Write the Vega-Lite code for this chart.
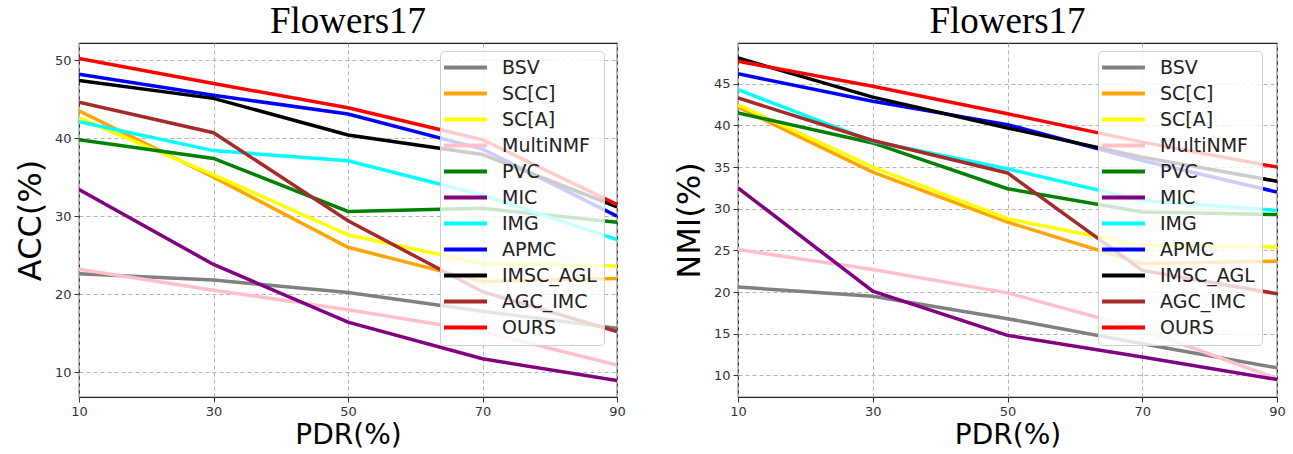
{
  "$schema": "https://vega.github.io/schema/vega-lite/v6.json",
  "padding": {"left": 13, "top": 2, "right": 5, "bottom": 0},
  "background": "white",
  "datasets": {
    "acc": [
      {"method": "BSV", "pdr": 10, "value": 22.6}, {"method": "BSV", "pdr": 30, "value": 21.8}, {"method": "BSV", "pdr": 50, "value": 20.2}, {"method": "BSV", "pdr": 70, "value": 17.8}, {"method": "BSV", "pdr": 90, "value": 15.6},
      {"method": "SC[C]", "pdr": 10, "value": 43.5}, {"method": "SC[C]", "pdr": 30, "value": 35.0}, {"method": "SC[C]", "pdr": 50, "value": 26.0}, {"method": "SC[C]", "pdr": 70, "value": 21.6}, {"method": "SC[C]", "pdr": 90, "value": 22.0},
      {"method": "SC[A]", "pdr": 10, "value": 42.6}, {"method": "SC[A]", "pdr": 30, "value": 35.3}, {"method": "SC[A]", "pdr": 50, "value": 27.6}, {"method": "SC[A]", "pdr": 70, "value": 23.9}, {"method": "SC[A]", "pdr": 90, "value": 23.6},
      {"method": "MultiNMF", "pdr": 10, "value": 23.2}, {"method": "MultiNMF", "pdr": 30, "value": 20.5}, {"method": "MultiNMF", "pdr": 50, "value": 18.0}, {"method": "MultiNMF", "pdr": 70, "value": 15.2}, {"method": "MultiNMF", "pdr": 90, "value": 10.9},
      {"method": "PVC", "pdr": 10, "value": 39.8}, {"method": "PVC", "pdr": 30, "value": 37.4}, {"method": "PVC", "pdr": 50, "value": 30.6}, {"method": "PVC", "pdr": 70, "value": 31.0}, {"method": "PVC", "pdr": 90, "value": 29.2},
      {"method": "MIC", "pdr": 10, "value": 33.4}, {"method": "MIC", "pdr": 30, "value": 23.8}, {"method": "MIC", "pdr": 50, "value": 16.4}, {"method": "MIC", "pdr": 70, "value": 11.7}, {"method": "MIC", "pdr": 90, "value": 8.9},
      {"method": "IMG", "pdr": 10, "value": 42.1}, {"method": "IMG", "pdr": 30, "value": 38.4}, {"method": "IMG", "pdr": 50, "value": 37.1}, {"method": "IMG", "pdr": 70, "value": 32.7}, {"method": "IMG", "pdr": 90, "value": 27.0},
      {"method": "APMC", "pdr": 10, "value": 48.2}, {"method": "APMC", "pdr": 30, "value": 45.5}, {"method": "APMC", "pdr": 50, "value": 43.1}, {"method": "APMC", "pdr": 70, "value": 38.6}, {"method": "APMC", "pdr": 90, "value": 30.0},
      {"method": "IMSC_AGL", "pdr": 10, "value": 47.4}, {"method": "IMSC_AGL", "pdr": 30, "value": 45.1}, {"method": "IMSC_AGL", "pdr": 50, "value": 40.4}, {"method": "IMSC_AGL", "pdr": 70, "value": 37.9}, {"method": "IMSC_AGL", "pdr": 90, "value": 31.2},
      {"method": "AGC_IMC", "pdr": 10, "value": 44.6}, {"method": "AGC_IMC", "pdr": 30, "value": 40.7}, {"method": "AGC_IMC", "pdr": 50, "value": 29.4}, {"method": "AGC_IMC", "pdr": 70, "value": 20.3}, {"method": "AGC_IMC", "pdr": 90, "value": 15.2},
      {"method": "OURS", "pdr": 10, "value": 50.2}, {"method": "OURS", "pdr": 30, "value": 47.0}, {"method": "OURS", "pdr": 50, "value": 43.9}, {"method": "OURS", "pdr": 70, "value": 39.8}, {"method": "OURS", "pdr": 90, "value": 31.5}
    ],
    "nmi": [
      {"method": "BSV", "pdr": 10, "value": 20.6}, {"method": "BSV", "pdr": 30, "value": 19.5}, {"method": "BSV", "pdr": 50, "value": 16.8}, {"method": "BSV", "pdr": 70, "value": 13.8}, {"method": "BSV", "pdr": 90, "value": 10.9},
      {"method": "SC[C]", "pdr": 10, "value": 42.2}, {"method": "SC[C]", "pdr": 30, "value": 34.4}, {"method": "SC[C]", "pdr": 50, "value": 28.4}, {"method": "SC[C]", "pdr": 70, "value": 23.4}, {"method": "SC[C]", "pdr": 90, "value": 23.7},
      {"method": "SC[A]", "pdr": 10, "value": 42.5}, {"method": "SC[A]", "pdr": 30, "value": 35.0}, {"method": "SC[A]", "pdr": 50, "value": 28.8}, {"method": "SC[A]", "pdr": 70, "value": 25.6}, {"method": "SC[A]", "pdr": 90, "value": 25.4},
      {"method": "MultiNMF", "pdr": 10, "value": 25.1}, {"method": "MultiNMF", "pdr": 30, "value": 22.7}, {"method": "MultiNMF", "pdr": 50, "value": 19.9}, {"method": "MultiNMF", "pdr": 70, "value": 15.5}, {"method": "MultiNMF", "pdr": 90, "value": 9.6},
      {"method": "PVC", "pdr": 10, "value": 41.5}, {"method": "PVC", "pdr": 30, "value": 37.9}, {"method": "PVC", "pdr": 50, "value": 32.4}, {"method": "PVC", "pdr": 70, "value": 29.6}, {"method": "PVC", "pdr": 90, "value": 29.3},
      {"method": "MIC", "pdr": 10, "value": 32.5}, {"method": "MIC", "pdr": 30, "value": 20.1}, {"method": "MIC", "pdr": 50, "value": 14.8}, {"method": "MIC", "pdr": 70, "value": 12.2}, {"method": "MIC", "pdr": 90, "value": 9.5},
      {"method": "IMG", "pdr": 10, "value": 44.3}, {"method": "IMG", "pdr": 30, "value": 38.1}, {"method": "IMG", "pdr": 50, "value": 34.8}, {"method": "IMG", "pdr": 70, "value": 31.0}, {"method": "IMG", "pdr": 90, "value": 29.8},
      {"method": "APMC", "pdr": 10, "value": 46.2}, {"method": "APMC", "pdr": 30, "value": 42.9}, {"method": "APMC", "pdr": 50, "value": 40.1}, {"method": "APMC", "pdr": 70, "value": 35.8}, {"method": "APMC", "pdr": 90, "value": 32.0},
      {"method": "IMSC_AGL", "pdr": 10, "value": 48.1}, {"method": "IMSC_AGL", "pdr": 30, "value": 43.4}, {"method": "IMSC_AGL", "pdr": 50, "value": 39.7}, {"method": "IMSC_AGL", "pdr": 70, "value": 36.2}, {"method": "IMSC_AGL", "pdr": 90, "value": 33.3},
      {"method": "AGC_IMC", "pdr": 10, "value": 43.3}, {"method": "AGC_IMC", "pdr": 30, "value": 38.2}, {"method": "AGC_IMC", "pdr": 50, "value": 34.3}, {"method": "AGC_IMC", "pdr": 70, "value": 22.6}, {"method": "AGC_IMC", "pdr": 90, "value": 19.8},
      {"method": "OURS", "pdr": 10, "value": 47.7}, {"method": "OURS", "pdr": 30, "value": 44.7}, {"method": "OURS", "pdr": 50, "value": 41.4}, {"method": "OURS", "pdr": 70, "value": 38.0}, {"method": "OURS", "pdr": 90, "value": 35.0}
    ]
  },
  "hconcat": [
    {
      "width": 538,
      "height": 354,
      "title": "Flowers17",
      "data": {"name": "acc"},
      "mark": {"type": "line", "strokeWidth": 3.5, "clip": true},
      "encoding": {
        "x": {"field": "pdr", "type": "quantitative", "title": "PDR(%)", "scale": {"domain": [10, 90], "nice": false}, "axis": {"values": [10, 30, 50, 70, 90]}},
        "y": {"field": "value", "type": "quantitative", "title": "ACC(%)", "scale": {"domain": [6.8, 52.2], "nice": false, "zero": false}, "axis": {"values": [10, 20, 30, 40, 50]}},
        "color": {
          "field": "method", "type": "nominal",
          "scale": {
            "domain": ["BSV", "SC[C]", "SC[A]", "MultiNMF", "PVC", "MIC", "IMG", "APMC", "IMSC_AGL", "AGC_IMC", "OURS"],
            "range": ["#808080", "#FFA500", "#FFFF00", "#FFC0CB", "#008000", "#800080", "#00FFFF", "#0000FF", "#000000", "#A52A2A", "#FF0000"]
          },
          "legend": {"orient": "none", "legendX": 361, "legendY": 8}
        }
      }
    },
    {
      "width": 539,
      "height": 354,
      "title": "Flowers17",
      "data": {"name": "nmi"},
      "mark": {"type": "line", "strokeWidth": 3.5, "clip": true},
      "encoding": {
        "x": {"field": "pdr", "type": "quantitative", "title": "PDR(%)", "scale": {"domain": [10, 90], "nice": false}, "axis": {"values": [10, 30, 50, 70, 90]}},
        "y": {"field": "value", "type": "quantitative", "title": "NMI(%)", "scale": {"domain": [7.4, 49.9], "nice": false, "zero": false}, "axis": {"values": [10, 15, 20, 25, 30, 35, 40, 45]}},
        "color": {
          "field": "method", "type": "nominal",
          "scale": {
            "domain": ["BSV", "SC[C]", "SC[A]", "MultiNMF", "PVC", "MIC", "IMG", "APMC", "IMSC_AGL", "AGC_IMC", "OURS"],
            "range": ["#808080", "#FFA500", "#FFFF00", "#FFC0CB", "#008000", "#800080", "#00FFFF", "#0000FF", "#000000", "#A52A2A", "#FF0000"]
          },
          "legend": {"orient": "none", "legendX": 360, "legendY": 8}
        }
      }
    }
  ],
  "spacing": 121,
  "bounds": "flush",
  "resolve": {"scale": {"y": "independent", "color": "independent"}, "legend": {"color": "independent"}},
  "config": {
    "view": {"stroke": "#222", "strokeWidth": 1.2},
    "axis": {
      "labelFont": "DejaVu Sans", "labelFontSize": 13, "labelColor": "#333", "labelPadding": 3, "labelFlush": false,
      "tickColor": "#333", "tickSize": 5, "domain": false,
      "gridColor": "#b3b3b3", "gridDash": [4, 3], "gridWidth": 1,
      "titleFont": "DejaVu Sans", "titleFontWeight": "normal", "titleColor": "#000"
    },
    "axisX": {"titlePadding": 3, "titleFontSize": 28},
    "axisY": {"titlePadding": 7, "titleFontSize": 32},
    "title": {"font": "Liberation Serif", "fontSize": 37, "fontWeight": "normal", "color": "#000", "offset": 2},
    "legend": {
      "title": null,
      "symbolType": "M-3,0H3",
      "symbolSize": 205,
      "symbolStrokeWidth": 4,
      "symbolOffset": 9,
      "labelFont": "DejaVu Sans", "labelFontSize": 19, "labelColor": "#222",
      "labelOffset": 27,
      "rowPadding": 6,
      "padding": 7,
      "strokeColor": "#d0d0d0",
      "fillColor": "rgba(255,255,255,0.8)",
      "cornerRadius": 4
    }
  }
}
